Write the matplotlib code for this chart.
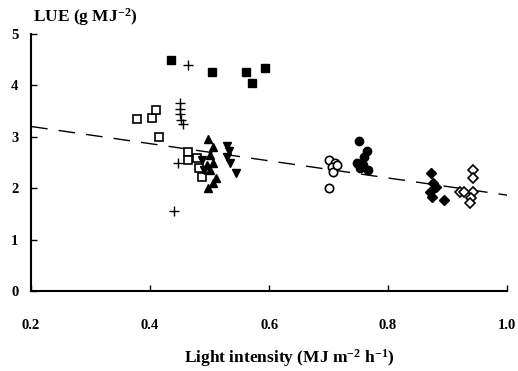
import numpy as np
import matplotlib
matplotlib.use("Agg")
import matplotlib.pyplot as plt

plt.rcParams['font.family'] = ['Liberation Serif', 'DejaVu Serif']
plt.rcParams['mathtext.fontset'] = 'custom'
plt.rcParams['mathtext.rm'] = 'Liberation Serif:bold'
plt.rcParams['mathtext.default'] = 'rm'

# data
sq_filled_x = [0.435, 0.504, 0.561, 0.571, 0.593]
sq_filled_y = [4.49, 4.26, 4.26, 4.05, 4.34]

plus_x = [0.464, 0.450, 0.450, 0.450, 0.452, 0.455, 0.447, 0.440]
plus_y = [4.40, 3.65, 3.55, 3.45, 3.33, 3.25, 2.50, 1.55]

sq_open_x = [0.378, 0.403, 0.410, 0.415, 0.464, 0.464, 0.478, 0.482, 0.487]
sq_open_y = [3.35, 3.37, 3.52, 3.00, 2.70, 2.55, 2.58, 2.40, 2.22]

tri_up_x = [0.497, 0.505, 0.500, 0.505, 0.500, 0.510, 0.497, 0.505, 0.495]
tri_up_y = [2.95, 2.80, 2.65, 2.50, 2.35, 2.20, 2.00, 2.10, 2.45]

tri_dn_x = [0.530, 0.533, 0.530, 0.535, 0.545, 0.487, 0.490]
tri_dn_y = [2.82, 2.72, 2.60, 2.50, 2.30, 2.55, 2.35]

circ_open_x = [0.700, 0.710, 0.705, 0.708, 0.700, 0.714]
circ_open_y = [2.55, 2.49, 2.41, 2.32, 2.00, 2.45]

circ_filled_x = [0.751, 0.765, 0.760, 0.748, 0.752, 0.767, 0.758]
circ_filled_y = [2.92, 2.72, 2.61, 2.49, 2.39, 2.35, 2.45]

dia_filled_x = [0.872, 0.876, 0.870, 0.873, 0.894, 0.880]
dia_filled_y = [2.30, 2.10, 1.93, 1.83, 1.77, 2.02]

dia_open_x = [0.943, 0.943, 0.943, 0.940, 0.937, 0.920, 0.928]
dia_open_y = [2.35, 2.20, 1.93, 1.81, 1.71, 1.93, 1.93]

# regression line
fit_a, fit_b = 3.535, -1.67
line_x = [0.2, 1.0]

fig = plt.figure(figsize=(5.18, 3.71), dpi=100)
ax = fig.add_axes([0.06, 0.2156, 0.919, 0.6927])

ax.plot(line_x, [fit_a + fit_b * v for v in line_x], color="black", lw=1.0,
        dashes=(12, 8), zorder=1)

ms = 6
ax.plot(sq_filled_x, sq_filled_y, "s", color="black", ms=ms)
ax.plot(plus_x, plus_y, "+", color="black", ms=7, mew=1.0)
ax.plot(sq_open_x, sq_open_y, "s", mfc="white", mec="black", ms=ms, mew=1.2)
ax.plot(tri_up_x, tri_up_y, "^", color="black", ms=ms)
ax.plot(tri_dn_x, tri_dn_y, "v", color="black", ms=ms)
ax.plot(circ_open_x, circ_open_y, "o", mfc="white", mec="black", ms=ms, mew=1.2)
ax.plot(circ_filled_x, circ_filled_y, "o", color="black", ms=ms)
ax.plot(dia_filled_x, dia_filled_y, "D", color="black", ms=5)
ax.plot(dia_open_x, dia_open_y, "D", mfc="white", mec="black", ms=5, mew=1.2)

ax.set_xlim(0.2, 1.0)
ax.set_ylim(0, 5)
ax.set_xticks([0.2, 0.4, 0.6, 0.8, 1.0])
ax.set_xticklabels(["0.2", "0.4", "0.6", "0.8", "1.0"])
ax.set_yticks([0, 1, 2, 3, 4, 5])
ax.tick_params(direction="in", length=4, width=1.0, labelsize=10.5)
ax.tick_params(axis="x", pad=20)
ax.tick_params(axis="y", pad=9)
for lab in ax.get_xticklabels() + ax.get_yticklabels():
    lab.set_fontweight("bold")

ax.spines["top"].set_visible(False)
ax.spines["right"].set_visible(False)
ax.spines["left"].set_linewidth(1.5)
ax.spines["bottom"].set_linewidth(1.5)

fig.text(0.063, 0.955, "LUE (g MJ$^{-2}$)", fontsize=12.5, fontweight="bold",
         ha="left", va="center")
fig.text(0.558, 0.035, "Light intensity (MJ m$^{-2}$ h$^{-1}$)", fontsize=12.5,
         fontweight="bold", ha="center", va="center")

fig.savefig("out.png", dpi=100)
